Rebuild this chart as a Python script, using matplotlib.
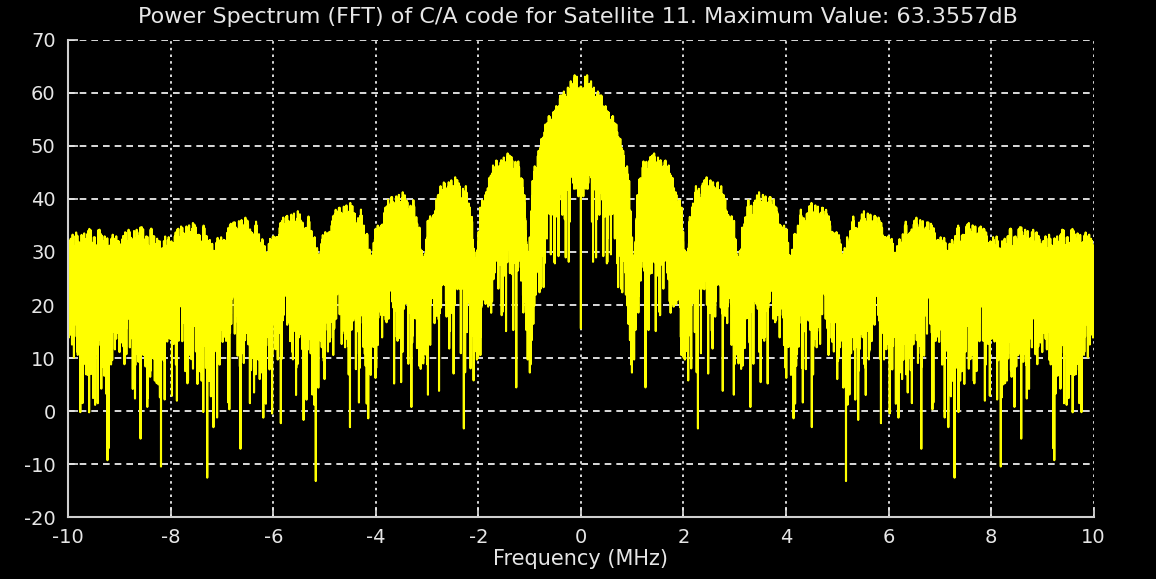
import numpy as np
import matplotlib
matplotlib.use("Agg")
import matplotlib.pyplot as plt

# GPS C/A code parameters for the plotted satellite
SATELLITE = 11
G2_TAPS = (3, 4)          # G2 phase selector taps for PRN 11
CHIP_RATE = 1.023e6       # chips per second
CODE_LENGTH = 1023
FS = 20e6                 # sampling frequency (Hz)
N_SAMPLES = 20000         # 1 ms of code

X_TICKS = [-10, -8, -6, -4, -2, 0, 2, 4, 6, 8, 10]
Y_TICKS = [-20, -10, 0, 10, 20, 30, 40, 50, 60, 70]

FG = "#e6e6e6"
BG = "#000000"

plt.rcParams["axes.unicode_minus"] = False


def ca_code(taps):
    """Gold code generator (G1 xor delayed G2) returning 0/1 chips."""
    g1 = np.ones(10, int)
    g2 = np.ones(10, int)
    out = np.zeros(CODE_LENGTH, int)
    for i in range(CODE_LENGTH):
        out[i] = g1[9] ^ g2[taps[0] - 1] ^ g2[taps[1] - 1]
        f1 = g1[2] ^ g1[9]
        f2 = g2[1] ^ g2[2] ^ g2[5] ^ g2[7] ^ g2[8] ^ g2[9]
        g1 = np.roll(g1, 1)
        g1[0] = f1
        g2 = np.roll(g2, 1)
        g2[0] = f2
    return out


code = 1 - 2 * ca_code(G2_TAPS)
idx = np.floor(np.arange(N_SAMPLES) * CHIP_RATE / FS).astype(int) % CODE_LENGTH
samples = code[idx]

spec = np.fft.fftshift(np.abs(np.fft.fft(samples)))
spec_db = 20 * np.log10(spec)
freq_mhz = (np.arange(N_SAMPLES) - N_SAMPLES // 2) * FS / N_SAMPLES / 1e6

fig = plt.figure(figsize=(11.56, 5.79), dpi=100, facecolor=BG)
ax = fig.add_axes([0.059, 0.107, 0.887, 0.824], facecolor=BG)

ax.plot(freq_mhz, spec_db, color="#ffff00", linewidth=1.5)

ax.set_xlim(-10, 10)
ax.set_ylim(-20, 70)
ax.set_xticks(X_TICKS)
ax.set_yticks(Y_TICKS)
ax.tick_params(direction="in", length=7, width=1.2, colors=FG,
               labelsize=14, top=False, right=False)
ax.tick_params(axis="x", pad=8)
ax.tick_params(axis="y", pad=9)

ax.xaxis.grid(True, color="white", linestyle=(0, (1.5, 2.5)), linewidth=1.2)
ax.yaxis.grid(True, color="white", linestyle=(0, (4, 3)), linewidth=1.2)

for side in ("top", "right"):
    ax.spines[side].set_visible(False)
for side in ("left", "bottom"):
    ax.spines[side].set_color("#cfcfcf")
    ax.spines[side].set_linewidth(1.5)

ax.set_xlabel("Frequency (MHz)", color=FG, fontsize=15, labelpad=1)
fig.text(
    0.5, 1 - 17 / 579,
    f"Power Spectrum (FFT) of C/A code for Satellite {SATELLITE}. "
    f"Maximum Value: {spec_db.max():.4f}dB",
    color=FG, fontsize=16, ha="center", va="center",
)

fig.savefig("out.png", dpi=100, facecolor=BG)
